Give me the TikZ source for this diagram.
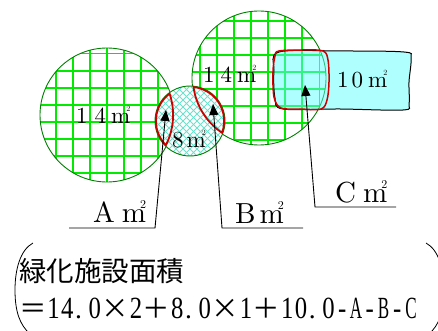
\documentclass[tikz,border=0pt]{standalone}
\usepackage{fontspec}
\usepackage{graphicx}
\usetikzlibrary{arrows.meta}

\newfontfamily\jpfont{Noto Sans CJK JP}
\newfontfamily\hwfont{Liberation Serif}
\newfontfamily\lblfont{lmroman10-regular.otf}

\definecolor{gridgreen}{RGB}{0,235,0}
\definecolor{rimgreen}{RGB}{0,128,0}
\definecolor{hatchcyan}{RGB}{110,225,205}
\definecolor{poolcyan}{RGB}{95,255,255}
\definecolor{lensred}{RGB}{205,0,0}

% square metre sign: m with a small 2 over its right shoulder
\newcommand{\msq}[2]{m\llap{\raisebox{#2}{\fontsize{#1}{#1}\selectfont 2}}}
% half-width and full-width cells for the formula
\newcommand{\hw}[2][0.9]{\makebox[0.5em]{\hwfont\scalebox{#1}[1.12]{#2}}}
\newcommand{\hdot}{\makebox[0.5em][l]{\hwfont\kern1pt.}}
\newcommand{\fw}[1]{\makebox[1em]{#1}}

\begin{document}
\begin{tikzpicture}[x=1pt, y=-1pt,
  gridline/.style={line width=1.8pt, gridgreen},
  rim/.style={line width=0.9pt, rimgreen},
  hatch/.style={line width=0.9pt, hatchcyan},
  lens/.style={line width=3.6pt, lensred},
  area/.style={anchor=base west, inner sep=0pt, font=\lblfont\fontsize{23}{23}\selectfont},
  tag/.style={anchor=base west, inner sep=0pt, font=\lblfont\fontsize{29}{29}\selectfont},
  leader/.style={line width=0.9pt, -{Triangle[length=11pt, width=9pt]}}]
\clip (0,0) rectangle (438,331);

% circle centres
\coordinate (L) at (107,115);
\coordinate (S) at (190,121);
\coordinate (R) at (259,78);

% Left circle, 14 m2
\fill[white] (L) circle (67pt);
\begin{scope}
  \clip (L) circle (67pt);
  \foreach \k in {-4,...,4} {
    \draw[gridline] (107+17.1*\k, 40) -- (107+17.1*\k, 190);
    \draw[gridline] (30, 122+17.1*\k) -- (185, 122+17.1*\k);
  }
\end{scope}
\draw[rim] (L) circle (67pt);

% Right circle, 14 m2
\fill[white] (R) circle (67pt);
\begin{scope}
  \clip (R) circle (67pt);
  \foreach \k in {-4,...,4} {
    \draw[gridline] (251+17.1*\k, 5) -- (251+17.1*\k, 150);
    \draw[gridline] (185, 72+17.1*\k) -- (335, 72+17.1*\k);
  }
\end{scope}
\draw[rim] (R) circle (67pt);

% Small circle, 8 m2 (cross hatched)
\fill[white] (S) circle (35pt);
\begin{scope}
  \clip (S) circle (35pt);
  \foreach \c in {-84,-77,...,84} {
    \draw[hatch] (190+\c-50, 71) -- (190+\c+50, 171);
    \draw[hatch] (190+\c-50, 171) -- (190+\c+50, 71);
  }
\end{scope}
\draw[rim] (S) circle (35pt);

% Wall area, 10 m2
\fill[poolcyan, fill opacity=0.5] plot[smooth cycle, tension=0.55] coordinates
  {(279,52) (340,51) (404,52) (411,58) (409,82) (409,104) (403,110) (340,109) (283,109) (275,98) (274,70)};
\draw[line width=1pt] plot[smooth cycle, tension=0.55] coordinates
  {(279,52) (340,51) (404,52) (411,58) (409,82) (409,104) (403,110) (340,109) (283,109) (275,98) (274,70)};

% Overlaps A, B, C
\begin{scope}
  \clip (L) circle (67pt);
  \clip (S) circle (35pt);
  \draw[lens] (L) circle (67pt) (S) circle (35pt);
\end{scope}
\begin{scope}
  \clip (R) circle (67pt);
  \clip (S) circle (35pt);
  \draw[lens] (R) circle (67pt) (S) circle (35pt);
\end{scope}
\draw[line width=1.5pt, lensred] plot[smooth cycle, tension=0.55] coordinates
  {(279,51) (303,50) (323,51) (328,60) (329,82) (327,100) (321,109) (300,109) (281,108) (274,97) (273,72) (275,56)};

% Area labels
\node[area] (aL) at (76,124) {1\hspace{7pt}4\hspace{5pt}\msq{8}{12pt}};
\node[area] (aS) at (172,147) {8\hspace{3pt}\msq{8}{12pt}};
\node[area] (aR) at (203,83) {1\hspace{6pt}4\hspace{5pt}\msq{8}{12pt}};
\node[area] (aW) at (337,88) {1\hspace{3pt}0\hspace{5pt}\msq{8}{12pt}};

% Leaders
\coordinate (tipA) at (166,110);
\coordinate (footA) at (155,228);
\coordinate (endA) at (69,228);
\coordinate (tipB) at (213,104);
\coordinate (footB) at (222,228);
\coordinate (endB) at (303,228);
\coordinate (tipC) at (305,85);
\coordinate (footC) at (315,207);
\coordinate (endC) at (396,207);

\draw[leader] (endA) -- (footA) -- (tipA);
\draw[leader] (endB) -- (footB) -- (tipB);
\draw[leader] (endC) -- (footC) -- (tipC);

\node[tag] (labA) at (93,222) {A\hspace{7pt}\msq{12}{14pt}};
\node[tag] (labB) at (235,223) {B\hspace{4pt}\msq{12}{14pt}};
\node[tag] (labC) at (335,202) {C\hspace{7pt}\msq{12}{14pt}};

% Formula in brackets
\draw[line width=0.8pt] (33,243) .. controls (20,250) and (15,270) .. (15,290)
  .. controls (15,312) and (20,325) .. (30,334);
\draw[line width=0.8pt] (426,243) .. controls (439,250) and (444,270) .. (444,290)
  .. controls (444,312) and (439,325) .. (429,334);

\node[anchor=base west, inner sep=0pt, font=\jpfont\fontsize{27.5}{27.5}\selectfont]
  (head) at (19,281) {緑化施設面積};
\node[anchor=base west, inner sep=0pt, font=\jpfont\fontsize{27.5}{27.5}\selectfont]
  (formula) at (19,318) {\fw{＝}\hw{1}\hw{4}\hdot\hw{0}\fw{×}\hw{2}\fw{＋}\hw{8}\hdot\hw{0}\fw{×}\hw{1}\fw{＋}\hw{1}\hw{0}\hdot\hw{0}\hw{-}\hw[0.62]{A}\hw{-}\hw[0.62]{B}\hw{-}\hw[0.62]{C}};

\end{tikzpicture}
\end{document}
